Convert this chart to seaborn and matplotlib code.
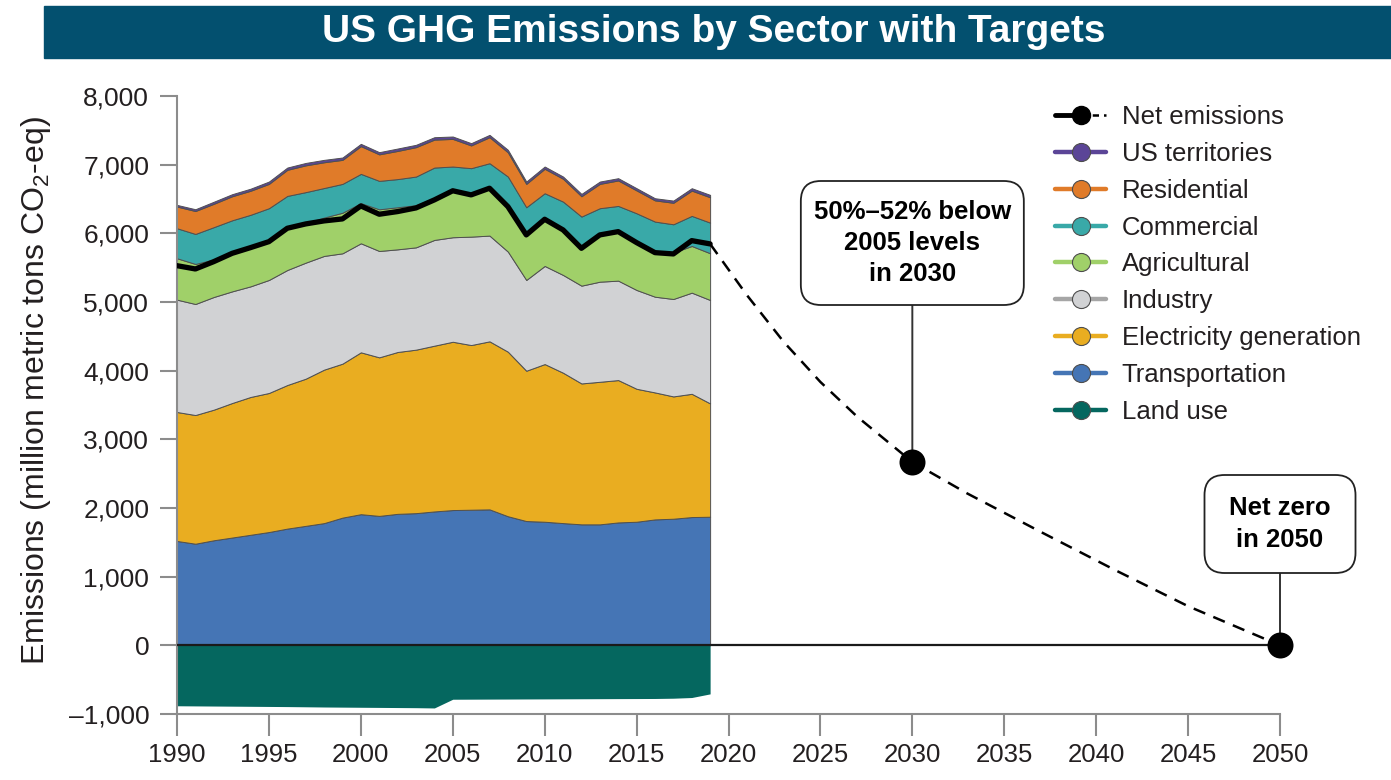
import numpy as np
import pandas as pd
import matplotlib.pyplot as plt
import seaborn as sns
from matplotlib.lines import Line2D
from matplotlib.patches import FancyBboxPatch, Rectangle
from matplotlib.legend_handler import HandlerTuple
from matplotlib.transforms import IdentityTransform
from matplotlib.ticker import FuncFormatter

# data (million metric tons CO2-eq)
years = list(range(1990, 2020))
transportation = [1520, 1480, 1530, 1570, 1610, 1650, 1700, 1740, 1780, 1860, 1910, 1885, 1915, 1925, 1950,
                  1970, 1975, 1980, 1880, 1810, 1800, 1780, 1762, 1762, 1790, 1800, 1834, 1844, 1868, 1873]
electricity = [1878, 1874, 1902, 1959, 2007, 2025, 2091, 2143, 2235, 2242, 2357, 2309, 2357, 2381, 2414,
               2451, 2398, 2447, 2396, 2189, 2296, 2190, 2052, 2076, 2073, 1936, 1849, 1781, 1795, 1650]
industry = [1636, 1617, 1641, 1626, 1611, 1646, 1675, 1690, 1656, 1607, 1588, 1549, 1495, 1490, 1540,
            1522, 1579, 1540, 1458, 1322, 1429, 1424, 1424, 1458, 1448, 1439, 1394, 1419, 1473, 1506]
agricultural = [603, 583, 547, 575, 582, 579, 619, 577, 559, 591, 585, 607, 613, 614, 616,
                697, 628, 713, 676, 679, 705, 676, 572, 704, 739, 715, 663, 676, 680, 681]
commercial = [437, 437, 470, 460, 460, 466, 460, 450, 430, 420, 426, 414, 410, 417, 438,
              333, 369, 341, 417, 380, 354, 392, 434, 366, 349, 402, 431, 412, 438, 446]
residential = [316, 334, 340, 350, 350, 354, 380, 390, 375, 350, 404, 386, 410, 428, 407,
               402, 331, 379, 353, 340, 356, 333, 296, 354, 371, 333, 309, 313, 368, 369]
territories = [24, 26, 30, 30, 30, 34, 33, 35, 35, 34, 33, 32, 35, 34, 35,
               35, 33, 34, 36, 34, 33, 32, 34, 34, 33, 32, 31, 32, 35, 35]
land_use = [-880, -882, -884, -886, -888, -890, -892, -895, -898, -900, -902, -904, -906, -908, -912,
            -785, -784, -783, -782, -781, -780, -779, -778, -777, -776, -775, -774, -770, -760, -707]
net_emissions = [5529, 5481, 5588, 5709, 5792, 5879, 6074, 6137, 6181, 6210, 6399, 6278, 6317, 6370, 6487,
                 6620, 6560, 6657, 6389, 5977, 6205, 6050, 5782, 5977, 6025, 5865, 5719, 5700, 5894, 5846]

proj_years = [2019, 2021, 2023, 2025, 2027, 2030, 2033, 2037, 2041, 2045, 2050]
proj_values = [5846, 5100, 4420, 3835, 3330, 2670, 2210, 1650, 1100, 570, 0]

target_years = [2030, 2050]
target_values = [2670, 0]
target_labels = ["50%\u201352% below\n2005 levels\nin 2030", "Net zero\nin 2050"]

sectors = ["Transportation", "Electricity generation", "Industry", "Agricultural",
           "Commercial", "Residential", "US territories"]
df = pd.DataFrame({"Transportation": transportation, "Electricity generation": electricity,
                   "Industry": industry, "Agricultural": agricultural, "Commercial": commercial,
                   "Residential": residential, "US territories": territories,
                   "Land use": land_use}, index=years)

fill_colors = {"Transportation": "#4575b5", "Electricity generation": "#e9ad21", "Industry": "#d1d2d4",
               "Agricultural": "#a0d069", "Commercial": "#39a9a8", "Residential": "#e07b29",
               "US territories": "#5b4597", "Land use": "#05675f"}
line_colors = dict(fill_colors, Industry="#a6a6a6")

W, H = 1391, 780
sns.set_theme(style="white")
plt.rcParams["font.family"] = ["Liberation Sans", "DejaVu Sans"]
plt.rcParams["mathtext.fontset"] = "custom"
plt.rcParams["mathtext.rm"] = "Liberation Sans"
txt = "#231f20"
gray = "#8c8c8c"

fig = plt.figure(figsize=(W / 100, H / 100), dpi=100)
ax = fig.add_axes([177 / W, 66 / H, 1103 / W, 618 / H])

# stacked sectors
ax.stackplot(years, [df[s] for s in sectors], colors=[fill_colors[s] for s in sectors],
             edgecolor="#505050", linewidth=0.7, zorder=2)
ax.fill_between(years, df["Land use"], 0, color=fill_colors["Land use"], lw=0, zorder=2)

ax.axhline(0, color="#1a1a1a", lw=1.6, zorder=3)

sns.lineplot(x=years, y=net_emissions, color="black", lw=3.8, ax=ax, zorder=4, legend=False)
sns.lineplot(x=proj_years, y=proj_values, color="black", lw=1.8, linestyle=(0, (5, 3.5)),
             ax=ax, zorder=4, legend=False)

ax.set_xlim(1990, 2050)
ax.set_ylim(-1000, 8000)
ax.set_xticks(range(1990, 2051, 5))
ax.set_yticks(range(-1000, 8001, 1000))
ax.yaxis.set_major_formatter(FuncFormatter(lambda v, p: f"{v:,.0f}".replace("-", "\u2013")))
ax.tick_params(axis="y", length=12, width=1.5, color=gray, pad=8, labelsize=19, labelcolor=txt, left=True)
ax.tick_params(axis="x", length=16, width=1.5, color=gray, pad=5, labelsize=18.5, labelcolor=txt, bottom=True)
for side in ["top", "right"]:
    ax.spines[side].set_visible(False)
for side in ["left", "bottom"]:
    ax.spines[side].set_color(gray)
    ax.spines[side].set_linewidth(1.5)
ax.set_ylabel("Emissions (million metric tons CO$_\\mathregular{2}$-eq)", fontsize=23, color=txt)
ax.yaxis.set_label_coords(-0.112, 0.524)
ax.set_xlabel("")

# target markers with callout boxes
sns.scatterplot(x=target_years, y=target_values, s=300, color="black", edgecolor="black",
                zorder=6, clip_on=False, ax=ax, legend=False)
boxes = [(223, 181, 305), (151, 475, 573)]  # width, top, bottom in pixels
for yr, val, lab, (bw, top, bot) in zip(target_years, target_values, target_labels, boxes):
    cx = ax.transData.transform((yr, 0))[0]
    fig.add_artist(FancyBboxPatch((cx - bw / 2, H - bot), bw, bot - top,
                                  boxstyle="round,pad=0,rounding_size=20", fc="white", ec="#222222",
                                  lw=1.3, transform=IdentityTransform(), zorder=5))
    ax.annotate("", xy=(yr, val), xycoords="data", xytext=(yr, H - bot),
                textcoords=("data", "figure pixels"),
                arrowprops=dict(arrowstyle="-", color="#333333", lw=1.4, shrinkA=0, shrinkB=0), zorder=5)
    fig.text(cx / W, 1 - (top + bot) / 2 / H, lab, ha="center", va="center", fontsize=18.5,
             fontweight="bold", color="black", linespacing=1.38, zorder=7)

# legend
solid = Line2D([], [], color="black", lw=3.5)
dashed = Line2D([], [], color="black", lw=1.8, ls=(0, (2.5, 2)))
dot = Line2D([], [], ls="none", marker="o", ms=13, mfc="black", mec="black")
pair = (solid, dashed)
net_handle = (pair, dot)
handles = [net_handle]
labels = ["Net emissions"]
for s in ["US territories", "Residential", "Commercial", "Agricultural", "Industry",
          "Electricity generation", "Transportation", "Land use"]:
    handles.append(Line2D([], [], color=line_colors[s], lw=3.2, marker="o", ms=13,
                          mfc=fill_colors[s], mec="#4d4d4d", mew=0.8))
    labels.append(s)
leg = ax.legend(handles, labels, handler_map={net_handle: HandlerTuple(ndivide=1),
                                              pair: HandlerTuple(ndivide=2, pad=0)},
                loc="upper left", bbox_to_anchor=(1055 / W, 1 - 105 / H), bbox_transform=fig.transFigure,
                frameon=False, fontsize=18.5, handlelength=2.0, handletextpad=0.6, labelspacing=0.5,
                borderpad=0, borderaxespad=0)
for t in leg.get_texts():
    t.set_color(txt)

# title banner
fig.add_artist(Rectangle((44 / W, 1 - 58 / H), 1 - 44 / W, 52 / H, transform=fig.transFigure,
                         color="#03506f", zorder=0))
fig.text(0.513, 1 - 32 / H, "US GHG Emissions by Sector with Targets", ha="center", va="center",
         fontsize=28, fontweight="bold", color="white")

fig.savefig("out.png", dpi=100)
